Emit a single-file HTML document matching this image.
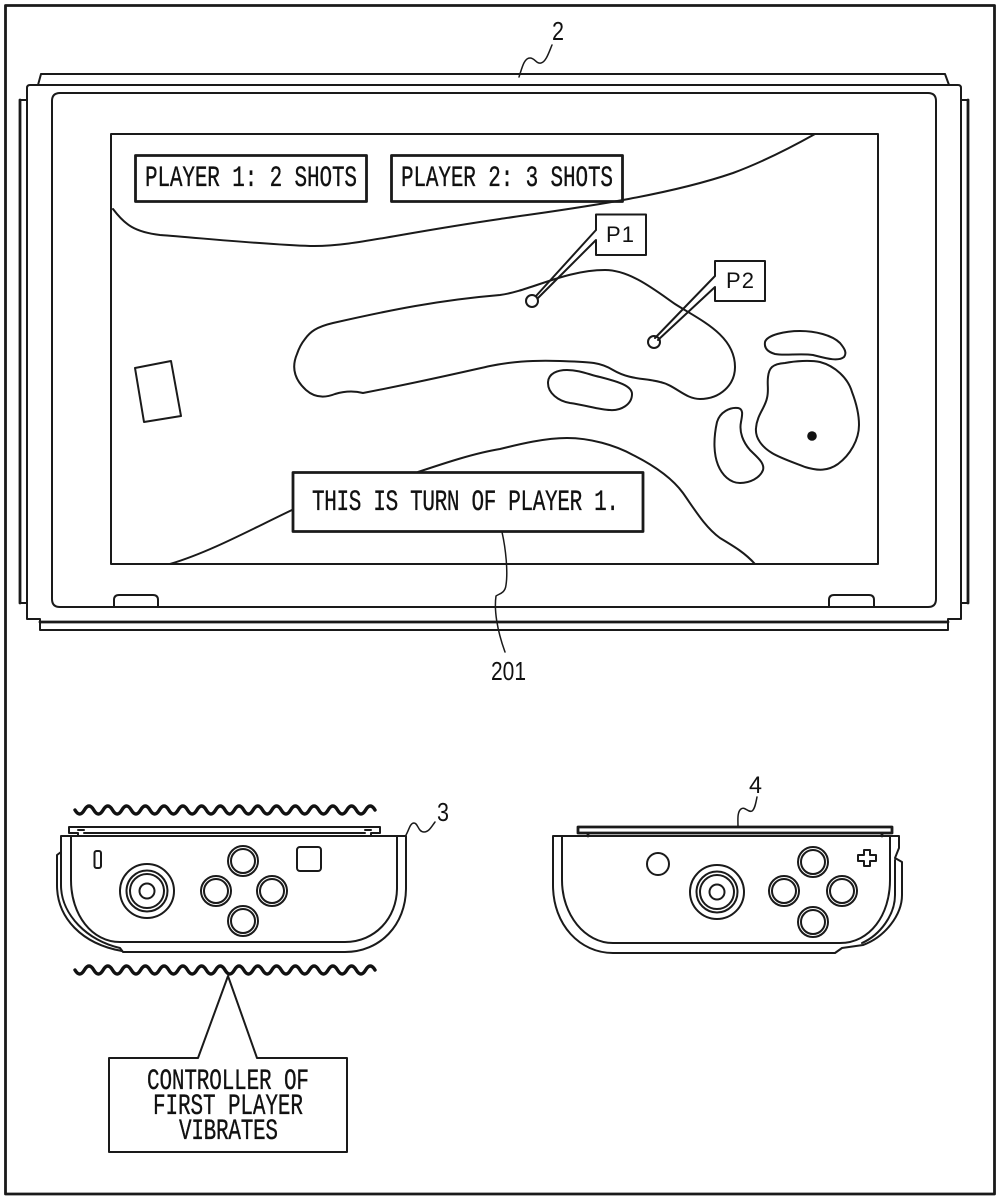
<!DOCTYPE html>
<html><head><meta charset="utf-8"><style>
html,body{margin:0;padding:0;background:#fff}
svg{display:block}
.l{fill:none;stroke:#1a1a1a;stroke-width:2;stroke-linejoin:round;stroke-linecap:round}
.t{stroke-width:2.8}
.w{stroke-width:3.4;stroke:#111}
.m{font-family:"Liberation Mono",monospace;font-size:21px;fill:#111;stroke:#111;stroke-width:.25}
.s{font-family:"Liberation Sans",sans-serif;fill:#111}
</style></head><body>
<svg width="1000" height="1200" viewBox="0 0 1000 1200" xmlns="http://www.w3.org/2000/svg">
<rect width="1000" height="1200" fill="#fff"/>
<rect class="l t" x="5.500" y="5.500" width="989" height="1188.500"/>

<!-- console -->
<path class="l" d="M38 85L41 74H945L949 85"/>
<path class="l" d="M27 100H20V603H27"/>
<path class="l t" d="M20 100V603"/>
<path class="l" d="M961 100H968V603H961"/>
<path class="l t" d="M968 100V603"/>
<path class="l" d="M40 622V630H948V622"/>
<path class="l t" d="M40 622H948"/>
<path class="l" d="M30 85H958Q961 85 961 88V619H948V622M30 85Q27 85 27 88V619H40V622"/>
<path class="l" d="M60 93H928Q936 93 936 101V599Q936 607 928 607H60Q52 607 52 599V101Q52 93 60 93Z"/>
<path class="l" d="M114 607V600Q114 595 119 595H153Q158 595 158 600V607"/>
<path class="l" d="M829 607V600Q829 595 834 595H869Q874 595 874 600V607"/>

<!-- screen -->
<rect class="l" x="111" y="134" width="767" height="430"/>
<path class="l" d="M113 209C125 225 135 232 160 235C200 238 270 245 310 246C350 247 390 235 500 219C560 210 660 198 733 173C760 163 790 148 815 134"/>
<path class="l" d="M305 339C310 332 316 327 333 323C390 310 440 300 500 295C530 291 565 270 605 270C630 270 655 290 675 304C700 320 735 335 735 367C735 385 720 399 700 399C685 399 675 385 660 382C645 378 630 380 613 370C600 362 590 362 560 361C530 360 510 362 490 366C450 375 420 382 363 393C355 391 345 391 335 394C325 398 315 398 306 390C295 380 291 368 297 354C299 348 301 344 305 339Z"/>
<path class="l" d="M548 383C548 373 558 370 567 370C580 370 590 375 600 377C615 381 632 385 632 394C632 405 620 411 610 410C600 410 585 405 570 403C558 401 548 393 548 383Z"/>
<path class="l" d="M765 342C767 335 785 331 800 331C815 331 832 335 840 343C845 349 847 353 844 357C838 362 825 358 813 355C800 353 785 356 775 354C768 352 764 348 765 342Z"/>
<path class="l" d="M768 377C769 368 772 364 785 363C795 361 810 360 820 362C835 366 848 378 852 392C857 405 859 415 859 425C859 440 850 455 838 464C828 471 818 471 805 467C795 463 780 458 772 453C762 447 755 438 756 428C757 415 765 408 767 398C769 390 767 385 768 377Z"/>
<path class="l" d="M717 422C720 412 730 407 738 408C744 409 742 416 741 422C739 432 743 442 750 450C757 457 765 463 763 470C760 478 750 483 740 483C730 483 722 475 718 465C714 455 713 440 717 422Z"/>
<circle cx="812" cy="436" r="4.800" fill="#111"/>
<path class="l" d="M418 472C445 463 475 453 500 449C520 444 545 438 567 438C590 438 615 445 633 455C655 466 672 478 683 493C695 510 705 527 720 538C735 547 745 553 755 564"/>
<path class="l" d="M170 564C210 552 250 530 292 510"/>
<path class="l" d="M135 368L171 361L181 416L144 422Z"/>

<!-- labels -->
<rect class="l t" x="135.500" y="155.500" width="231" height="46" fill="#fff"/>
<text class="m" transform="translate(145 186) scale(1 1.42)" textLength="212">PLAYER 1: 2 SHOTS</text>
<rect class="l t" x="391.500" y="155.500" width="231" height="46" fill="#fff"/>
<text class="m" transform="translate(401 186) scale(1 1.42)" textLength="212">PLAYER 2: 3 SHOTS</text>
<rect class="l t" x="293" y="472.500" width="350" height="59" fill="#fff"/>
<text class="m" transform="translate(312 510) scale(1 1.42)" textLength="307">THIS IS TURN OF PLAYER 1.</text>

<!-- P1 P2 -->
<path class="l" d="M596 230V214.500H646V255H596V240L538 298M596 230L536 296" fill="#fff"/>
<circle class="l" cx="532" cy="301" r="6" fill="#fff"/>
<text class="s" x="606" y="242" font-size="22" textLength="28">P1</text>
<path class="l" d="M715 276V261H765V301H715V287L658 340M715 276L655 338" fill="#fff"/>
<circle class="l" cx="654" cy="342" r="6" fill="#fff"/>
<text class="s" x="726" y="288" font-size="22" textLength="28">P2</text>

<!-- reference numerals -->
<text class="s" x="552" y="40" font-size="26" textLength="12" lengthAdjust="spacingAndGlyphs">2</text>
<path class="l" d="M519 77C522 68 524 58 530 58C535 58 536 64 541 63C546 62 549 52 552 45" style="stroke-width:1.5"/>
<path class="l" d="M502 532C506 550 508 572 506 585C505 594 498 594 496 596C494 610 497 630 505 652" style="stroke-width:1.5"/>
<text class="s" x="491" y="680" font-size="26" textLength="35" lengthAdjust="spacingAndGlyphs">201</text>
<text class="s" x="437" y="821" font-size="26" textLength="12" lengthAdjust="spacingAndGlyphs">3</text>
<path class="l" d="M406 835C409 830 410 823 414 823C418 823 418 832 424 832C429 832 432 826 435 822" style="stroke-width:1.5"/>
<text class="s" x="749" y="793" font-size="24" textLength="13" lengthAdjust="spacingAndGlyphs">4</text>
<path class="l" d="M738 827C738 820 737 812 741 809C745 806 748 813 752 811C755 809 756 802 757 797" style="stroke-width:1.5"/>

<!-- waves -->
<path class="l w" d="M75 810q4.700 8 9.375 0t9.375 0t9.375 0t9.375 0t9.375 0t9.375 0t9.375 0t9.375 0t9.375 0t9.375 0t9.375 0t9.375 0t9.375 0t9.375 0t9.375 0t9.375 0t9.375 0t9.375 0t9.375 0t9.375 0t9.375 0t9.375 0t9.375 0t9.375 0t9.375 0t9.375 0t9.375 0t9.375 0t9.375 0t9.375 0t9.375 0t9.375 0"/>
<path class="l w" d="M75 970q4.700 8 9.375 0t9.375 0t9.375 0t9.375 0t9.375 0t9.375 0t9.375 0t9.375 0t9.375 0t9.375 0t9.375 0t9.375 0t9.375 0t9.375 0t9.375 0t9.375 0t9.375 0t9.375 0t9.375 0t9.375 0t9.375 0t9.375 0t9.375 0t9.375 0t9.375 0t9.375 0t9.375 0t9.375 0t9.375 0t9.375 0t9.375 0t9.375 0"/>

<!-- controller 3 -->
<path class="l" d="M78 836V833H69V827H380V833H371V836M84 833H365M78 830H84M365 830H371"/>
<path class="l" d="M61 836H406V888C406 925 380 952 345 952H123L120 948C88 941 61 915 61 885V836"/>
<path class="l" d="M61 852L57 855V885C57 918 82 944 122 951"/>
<path class="l" d="M71 836V880C71 915 92 942 120 942H345C375 942 397 918 397 888V836"/>
<rect class="l" x="94.500" y="851" width="6.500" height="17" rx="2"/>
<rect class="l" x="297" y="847" width="24" height="24" rx="3"/>
<circle class="l" cx="147" cy="891" r="27"/><circle class="l" cx="147" cy="891" r="20.500"/><circle class="l" cx="147" cy="891" r="17"/><circle class="l" cx="147" cy="891" r="7.500"/>
<circle class="l" cx="243" cy="861" r="15"/><circle class="l" cx="243" cy="861" r="12"/>
<circle class="l" cx="216" cy="891" r="15"/><circle class="l" cx="216" cy="891" r="12"/>
<circle class="l" cx="272" cy="891" r="15"/><circle class="l" cx="272" cy="891" r="12"/>
<circle class="l" cx="243" cy="921" r="15"/><circle class="l" cx="243" cy="921" r="12"/>

<!-- controller 4 -->
<path class="l t" d="M588 836V833H578V827H892V833H882V836M578 833H892"/>
<path class="l" d="M553 836H899V848L895 858L902 862V895C902 915 885 937 863 945L842 948L835 953H613C580 953 553 925 553 885V836"/>
<path class="l" d="M562 836V880C562 915 585 943 613 943H840C870 943 890 915 890 880V836M895 860V895C895 915 880 935 862 943"/>
<circle class="l" cx="658" cy="864" r="11"/>
<circle class="l" cx="717" cy="892" r="27"/><circle class="l" cx="717" cy="892" r="20.500"/><circle class="l" cx="717" cy="892" r="17"/><circle class="l" cx="717" cy="892" r="7.500"/>
<circle class="l" cx="813" cy="862" r="15"/><circle class="l" cx="813" cy="862" r="12"/>
<circle class="l" cx="784" cy="891" r="15"/><circle class="l" cx="784" cy="891" r="12"/>
<circle class="l" cx="842" cy="891" r="15"/><circle class="l" cx="842" cy="891" r="12"/>
<circle class="l" cx="813" cy="922" r="15"/><circle class="l" cx="813" cy="922" r="12"/>
<path class="l" d="M864 850H870V855H876V861H870V866H864V861H858V855H864Z"/>

<!-- callout -->
<path class="l" d="M198 1058L228 976L257 1058H347V1152H109V1058Z" fill="#fff"/>
<text class="m" transform="translate(147 1089) scale(1 1.42)" textLength="162">CONTROLLER OF</text>
<text class="m" transform="translate(153 1114) scale(1 1.42)" textLength="150">FIRST PLAYER</text>
<text class="m" transform="translate(179 1139) scale(1 1.42)" textLength="99">VIBRATES</text>
</svg>
</body></html>
